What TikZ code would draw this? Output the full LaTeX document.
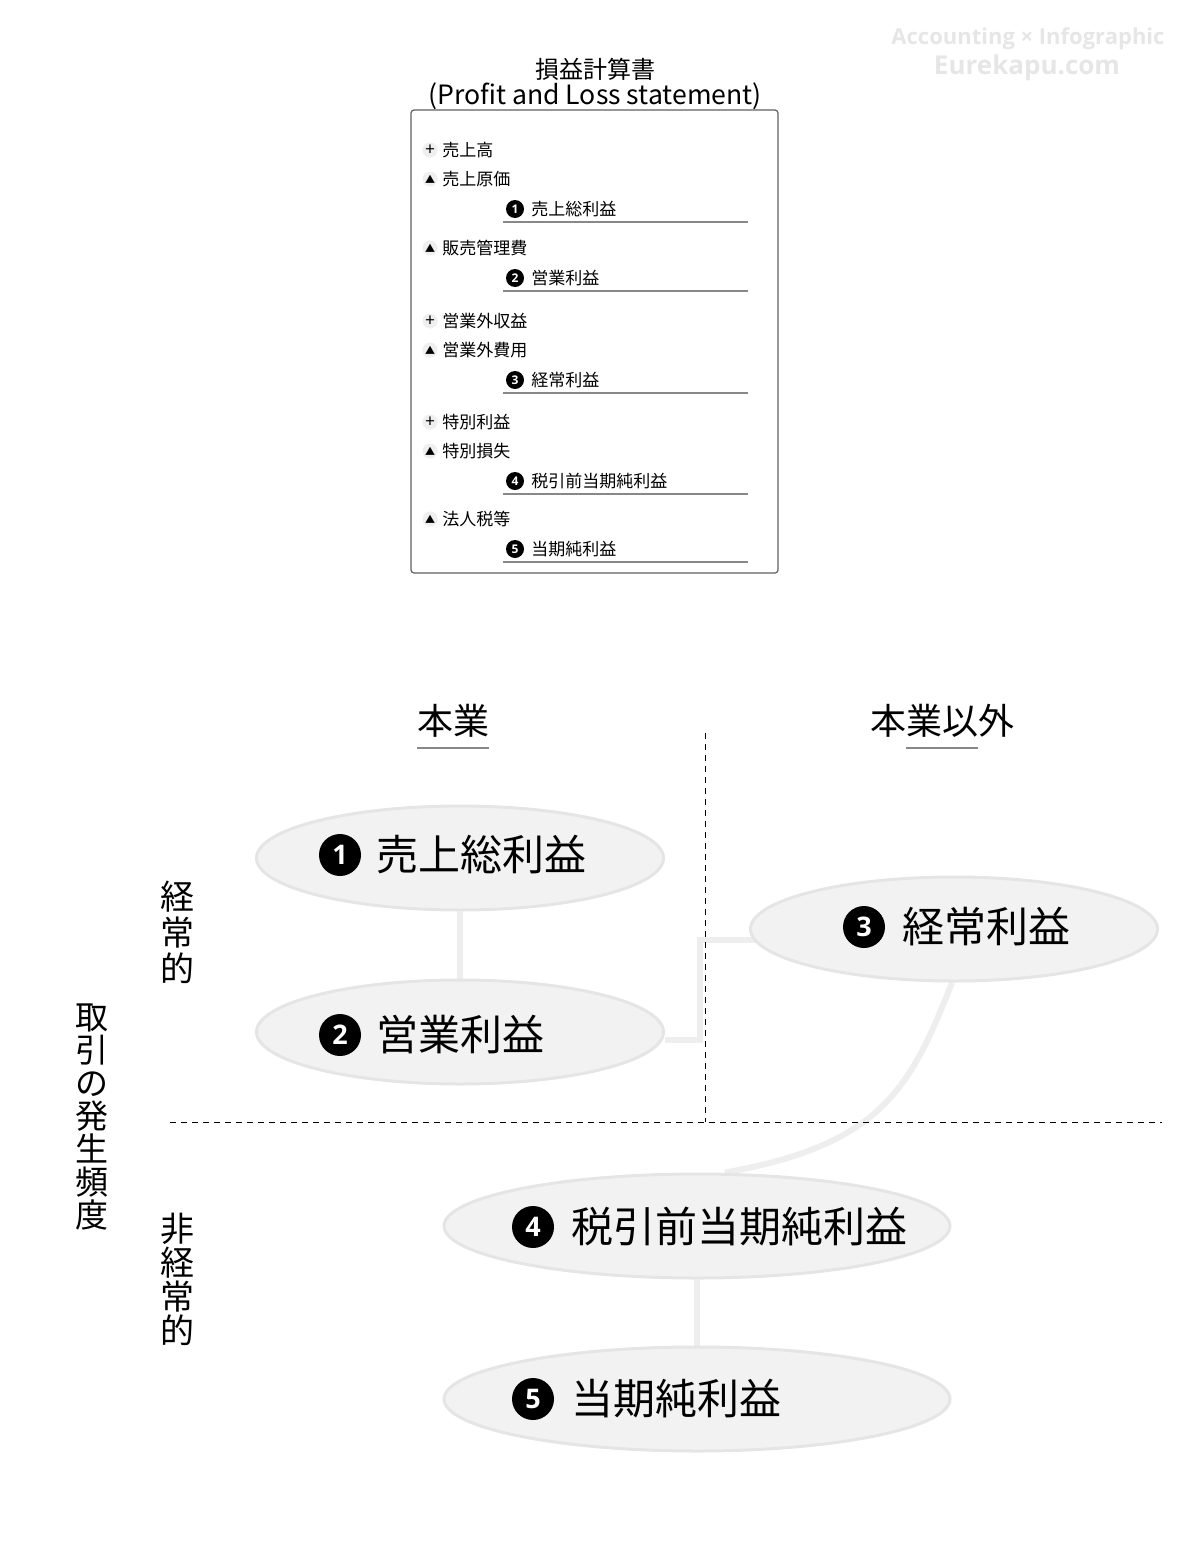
\documentclass[tikz,border=0pt]{standalone}
\usepackage{fontspec}
\setmainfont{Noto Sans CJK JP}
\newfontfamily\latinbold{Open Sans}
\usetikzlibrary{shapes.geometric,backgrounds}
\definecolor{ovalfill}{HTML}{F2F2F2}
\definecolor{ovalline}{HTML}{E5E5E5}
\definecolor{linkgray}{HTML}{EEEEEE}
\definecolor{rulegray}{HTML}{888888}
\definecolor{boxgray}{HTML}{606060}
\definecolor{signfill}{HTML}{EFEFEF}
\definecolor{wmgray}{HTML}{E6E6E6}
\newcommand{\plussign}{{\fontsize{8.5}{8.5}\selectfont +}}
\newcommand{\minussign}{▲}
\begin{document}
\begin{tikzpicture}[x=0.5pt,y=-0.5pt]
	% whole picture, in pixels of the reference
	\useasboundingbox (0,0) rectangle (1200,1542);
	% size of each oval
	\def\ovalw{203.5pt}
	\def\ovalwide{253pt}
	\def\ovalh{52pt}
	% node style definition
	\tikzstyle{oval} = [ellipse, draw=ovalline, line width=1.5pt, fill=ovalfill, minimum width=\ovalw, minimum height=\ovalh, inner sep=0pt];
	\tikzstyle{badge} = [circle, fill=black, text=white, inner sep=0pt, minimum size=21pt, font=\latinbold\bfseries\fontsize{13.5}{13.5}\selectfont];
	\tikzstyle{sbadge} = [circle, fill=black, text=white, inner sep=0pt, minimum size=9pt, font=\latinbold\bfseries\fontsize{6}{6}\selectfont];
	\tikzstyle{sign} = [circle, fill=signfill, inner sep=0pt, minimum size=7.5pt, font=\fontsize{5}{5}\selectfont];
	\tikzstyle{entry} = [anchor=west, inner sep=0pt, font=\fontsize{8.5}{8.5}\selectfont];
	\tikzstyle{big} = [anchor=west, inner sep=0pt, font=\fontsize{21}{21}\selectfont];
	\tikzstyle{hdr} = [inner sep=0pt, font=\fontsize{18}{18}\selectfont];
	\tikzstyle{vlabel} = [align=center, inner sep=0pt, font=\fontsize{17}{18}\selectfont];
	\tikzstyle{wm} = [text=wmgray, inner sep=0pt, font=\latinbold\bfseries];
	\tikzstyle{conn} = [draw=linkgray, line width=3pt];
	\tikzstyle{sep} = [dash pattern=on 3pt off 2.5pt, line width=0.5pt];
	\tikzstyle{subline} = [draw=rulegray, line width=1pt];

	% watermark
	\node[wm, font=\latinbold\bfseries\fontsize{11}{11}\selectfont] (wm1) at (1028,39) {Accounting × Infographic};
	\node[wm, font=\latinbold\bfseries\fontsize{13}{13}\selectfont] (wm2) at (1027,68) {Eurekapu.com};

	% statement box
	\node[font=\fontsize{12}{12}\selectfont] (title) at (595,69) {損益計算書};
	\node[font=\fontsize{13.3}{13.3}\selectfont] (subtitle) at (595,96) {(Profit and Loss statement)};
	\draw[boxgray, line width=0.6pt, rounded corners=1.5pt] (411,110) rectangle (778,573);
	\foreach \y/\s/\t in {150/\plussign/売上高, 179/\minussign/売上原価, 248/\minussign/販売管理費, 321/\plussign/営業外収益, 350/\minussign/営業外費用, 422/\plussign/特別利益, 451/\minussign/特別損失, 519/\minussign/法人税等} {
		\node[sign] (s\y) at (430,\y) {\s};
		\node[entry] (t\y) at (442,\y) {\t};
	}
	\foreach \n/\y/\t in {1/209/売上総利益, 2/278/営業利益, 3/380/経常利益, 4/481/税引前当期純利益, 5/549/当期純利益} {
		\node[sbadge] (n\n) at (515,\y) {\n};
		\node[entry] (r\n) at (531,\y) {\t};
		\draw[subline] (503,\y+12.5) -- (748,\y+12.5);
	}

	% column heads
	\node[hdr] (core) at (453,721) {本業};
	\node[hdr] (noncore) at (942,721) {本業以外};
	\draw[subline] (417,748) -- (489,748);
	\draw[subline] (906,748) -- (978,748);

	% row heads
	\node[vlabel] (regular) at (177,932) {経\\常\\的};
	\node[vlabel, font=\fontsize{16.5}{16.5}\selectfont] (freq) at (92,1117) {取\\引\\の\\発\\生\\頻\\度};
	\node[vlabel, font=\fontsize{17}{17}\selectfont] (irregular) at (177,1279) {非\\経\\常\\的};

	% dashed grid
	\draw[sep] (705,733) -- (705,1122);
	\draw[sep] (170,1122) -- (1162,1122);

	% ovals
	\node[oval] (gross) at (460,858) {};
	\node[oval] (oper) at (460,1032) {};
	\node[oval] (ord) at (954,929) {};
	\node[oval, minimum width=\ovalwide] (pretax) at (697,1226) {};
	\node[oval, minimum width=\ovalwide] (net) at (697,1399) {};

	\node[badge] (b1) at (340,855) {1};
	\node[big] (l1) at (376,855) {売上総利益};
	\node[badge] (b2) at (340,1035) {2};
	\node[big] (l2) at (376,1035) {営業利益};
	\node[badge] (b3) at (864,927) {3};
	\node[big] (l3) at (902,927) {経常利益};
	\node[badge] (b4) at (533,1227) {4};
	\node[big] (l4) at (571,1227) {税引前当期純利益};
	\node[badge] (b5) at (533,1399) {5};
	\node[big] (l5) at (571,1399) {当期純利益};

	% links behind the ovals
	\begin{scope}[on background layer]
		\draw[conn] (gross) -- (oper);
		\draw[conn] ([yshift=-4pt]oper.east) -- ++(35,0) |- ([yshift=-5.5pt,xshift=8pt]ord.west);
		\draw[conn] ([xshift=-1pt]ord.south) .. controls (910,1090) and (880,1145) .. ([xshift=14pt]pretax.north);
		\draw[conn] (pretax) -- (net);
	\end{scope}
\end{tikzpicture}
\end{document}
